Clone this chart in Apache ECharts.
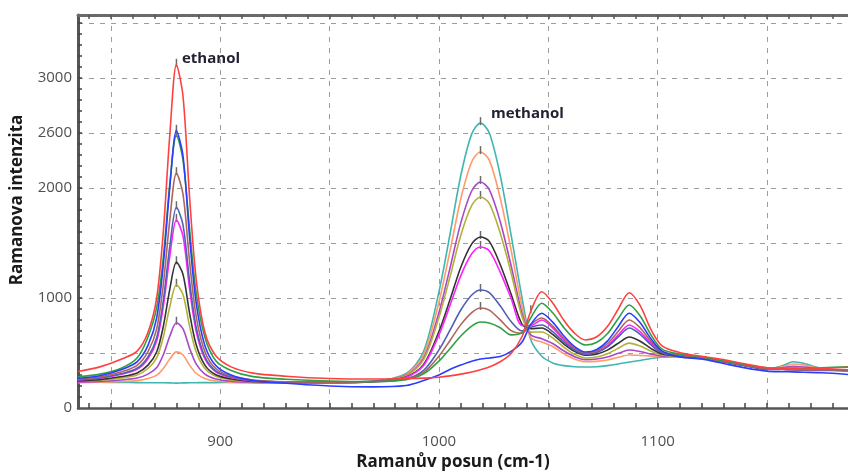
<!DOCTYPE html>
<html>
<head>
<meta charset="utf-8">
<script src="https://cdn.jsdelivr.net/npm/echarts/dist/echarts.min.js"></script>
<style>
  html, body { margin: 0; padding: 0; background: #ffffff; }
  #chart { width: 848px; height: 472px; }
</style>
</head>
<body>
<div id="chart"></div>
<script>
// Raman shift sample positions (cm-1), shared by every spectrum
const wavenumbers = [835, 845, 855, 862, 867, 871, 874, 877, 880, 883, 886, 889, 893, 898, 905, 915, 930,
  950, 970, 985, 993, 1000, 1005, 1010, 1015, 1019, 1023, 1028, 1033, 1038, 1042,
  1047, 1052, 1057, 1062, 1067, 1072, 1077, 1082, 1087, 1092, 1097, 1102, 1110, 1120, 1130, 1140, 1150, 1157, 1162, 1167, 1175, 1187];

// Spectra of ethanol / methanol mixtures (intensity, a.u.)
const specRed = [332, 374, 446, 517, 689, 1004, 1604, 2491, 3120, 2834, 1919, 1175, 689, 475, 374, 317, 289,
  268, 263, 268, 272, 280, 292, 308, 328, 348, 372, 420, 495, 650, 880,
  1057, 955, 800, 680, 618, 645, 740, 900, 1048, 930, 710, 565, 505, 470, 440, 400, 365, 360, 358, 355, 360, 370];
const specBlue = [271, 294, 351, 420, 569, 822, 1304, 2015, 2520, 2291, 1556, 959, 569, 386, 300, 250, 225,
  200, 192, 205, 250, 300, 350, 390, 425, 445, 455, 468, 515, 600, 760,
  862, 781, 657, 558, 509, 530, 608, 742, 862, 776, 627, 517, 465, 445, 405, 365, 335, 330, 328, 325, 320, 305];
const specGreen = [285, 308, 364, 454, 646, 917, 1368, 2044, 2480, 2256, 1629, 1046, 643, 430, 341, 285, 262,
  245, 240, 258, 310, 426, 539, 655, 745, 782, 772, 730, 665, 685, 820,
  953, 866, 733, 626, 573, 595, 675, 813, 936, 836, 662, 535, 490, 465, 430, 395, 365, 360, 360, 362, 365, 375];
const specBrown = [263, 282, 330, 387, 512, 722, 1123, 1715, 2135, 1944, 1333, 836, 512, 359, 292, 254, 238,
  235, 238, 262, 324, 471, 612, 758, 868, 909, 890, 801, 704, 680, 760,
  818, 745, 634, 545, 500, 518, 584, 698, 800, 729, 605, 514, 478, 460, 425, 388, 355, 352, 350, 348, 345, 345];
const specSlate = [257, 273, 313, 361, 465, 641, 977, 1473, 1825, 1665, 1153, 737, 465, 337, 281, 249, 236,
  233, 239, 266, 342, 528, 706, 891, 1027, 1073, 1050, 929, 786, 700, 735,
  755, 694, 601, 527, 490, 504, 556, 646, 727, 670, 573, 501, 472, 455, 422, 386, 352, 350, 348, 346, 342, 340];
const specMagenta = [255, 270, 307, 351, 448, 611, 923, 1383, 1710, 1562, 1086, 700, 448, 329, 277, 247, 235,
  233, 241, 280, 387, 664, 929, 1204, 1402, 1464, 1430, 1236, 996, 750, 750,
  800, 729, 620, 533, 490, 506, 564, 665, 755, 693, 587, 509, 478, 458, 425, 388, 355, 352, 350, 348, 345, 348];
const specBlack = [247, 258, 286, 319, 390, 511, 742, 1083, 1325, 1215, 863, 577, 390, 302, 264, 242, 233,
  232, 240, 282, 396, 695, 981, 1280, 1492, 1555, 1515, 1305, 1035, 760, 720,
  727, 670, 584, 515, 480, 490, 526, 589, 645, 607, 540, 491, 470, 455, 422, 386, 353, 352, 350, 347, 343, 345];
const specOlive = [243, 252, 274, 301, 359, 458, 646, 923, 1120, 1031, 744, 511, 359, 288, 256, 238, 231,
  232, 242, 294, 439, 822, 1188, 1571, 1842, 1918, 1860, 1590, 1228, 830, 690,
  691, 637, 554, 488, 455, 463, 493, 544, 590, 563, 517, 483, 468, 452, 420, 385, 355, 360, 368, 360, 348, 340];
const specViolet = [236, 242, 255, 272, 308, 368, 484, 654, 775, 720, 544, 401, 308, 264, 244, 233, 229,
  230, 242, 297, 453, 869, 1267, 1683, 1975, 2055, 1985, 1696, 1293, 860, 665,
  630, 586, 520, 467, 440, 445, 464, 497, 527, 513, 490, 472, 466, 452, 420, 385, 355, 365, 380, 372, 352, 340];
const specOrange = [231, 234, 241, 249, 268, 299, 359, 447, 510, 482, 390, 316, 268, 245, 235, 229, 227,
  230, 242, 305, 485, 964, 1422, 1903, 2239, 2327, 2254, 1910, 1435, 920, 640,
  600, 559, 496, 445, 420, 424, 437, 461, 482, 478, 472, 467, 466, 450, 420, 385, 355, 375, 400, 390, 355, 338];
const specTeal = [236, 234, 232, 231, 230, 229, 229, 228, 226, 228, 229, 230, 231, 231, 232, 233, 234,
  235, 244, 314, 515, 1056, 1573, 2114, 2492, 2590, 2502, 2116, 1572, 1000, 620,
  470, 410, 385, 375, 373, 375, 385, 400, 418, 432, 450, 462, 468, 450, 420, 385, 355, 385, 420, 405, 360, 335];

const spectra = [specTeal, specOrange, specViolet, specOlive, specBlack, specMagenta,
  specSlate, specBrown, specGreen, specBlue, specRed];
const spectrumNames = ['vzorek 11', 'vzorek 10', 'vzorek 9', 'vzorek 8', 'vzorek 7', 'vzorek 6',
  'vzorek 5', 'vzorek 4', 'vzorek 3', 'vzorek 2', 'vzorek 1'];

// Axis ticks and labels
const xTickValues = [840, 850, 860, 870, 880, 890, 900, 910, 920, 930, 940, 950, 960, 970, 980, 990, 1000,
  1010, 1020, 1030, 1040, 1050, 1060, 1070, 1080, 1090, 1100, 1110, 1120, 1130, 1140, 1150, 1160, 1170, 1180];
const xLabelValues = [900, 1000, 1100];
const yTickValues = [100, 200, 300, 400, 500, 600, 700, 800, 900, 1000, 1100, 1200, 1300, 1400, 1500,
  1600, 1700, 1800, 1900, 2000, 2100, 2200, 2300, 2400, 2500, 2600, 2700, 2800, 2900, 3000,
  3100, 3200, 3300, 3400, 3500];
const yLabelValues = [0, 1000, 2000, 2500, 3000];
const yLabelTexts = ['0', '1000', '2000', '2600', '3000'];

// Peak windows (index ranges into wavenumbers) that get a peak marker
const peakWindows = [[0, 16, 700], [17, 30, 850]];

// Styling
const lineColors = ['#3fb6b0', '#ff9a6a', '#a848c8', '#b2b23a', '#333333', '#ff22ff',
  '#5060b4', '#b0645a', '#2f9f44', '#2a3cff', '#ff4040'];

const chart = echarts.init(document.getElementById('chart'), null, { renderer: 'canvas' });

function peakMarks(values) {
  const marks = [];
  peakWindows.forEach(([a, b, minHeight]) => {
    let best = a;
    for (let i = a; i <= b; i++) if (values[i] > values[best]) best = i;
    if (values[best] > minHeight) marks.push({ coord: [wavenumbers[best], values[best]] });
  });
  return marks;
}

const gridDash = { color: '#9c9c9c', width: 1, type: [5, 6] };
const hidden = { show: false };

const option = {
  animation: false,
  backgroundColor: '#ffffff',
  grid: { left: 78, right: 0, top: 15, bottom: 64 },
  xAxis: [
    {
      // bottom axis: line, fine ticks and labels
      type: 'value', min: 835, max: 1187, splitNumber: 7, position: 'bottom',
      axisLine: { show: true, onZero: false, lineStyle: { color: '#555555', width: 2.5 } },
      axisTick: { show: true, inside: true, length: 5, customValues: xTickValues, lineStyle: { color: '#444444', width: 1.5 } },
      axisLabel: {
        customValues: xLabelValues, margin: 26, color: '#505050',
        fontFamily: 'Open Sans', fontSize: 15,
        formatter: v => (xLabelValues.indexOf(v) >= 0 ? String(v) : '')
      },
      splitLine: hidden
    },
    {
      // top frame axis
      type: 'value', min: 835, max: 1187, splitNumber: 7, position: 'top',
      axisLine: { show: true, onZero: false, lineStyle: { color: '#6a6a6a', width: 3 } },
      axisTick: { show: true, inside: true, length: 4, customValues: xTickValues, lineStyle: { color: '#555555', width: 1.5 } },
      axisLabel: hidden,
      splitLine: hidden
    },
    {
      // dashed vertical grid every 50 cm-1
      type: 'value', min: 835, max: 1187, splitNumber: 7, position: 'bottom',
      axisLine: hidden, axisTick: hidden, axisLabel: hidden,
      splitLine: { show: true, lineStyle: gridDash }
    }
  ],
  yAxis: [
    {
      type: 'value', min: 0, max: 3573, interval: 500, position: 'left',
      axisLine: { show: true, onZero: false, lineStyle: { color: '#555555', width: 3 } },
      axisTick: { show: true, inside: true, length: 4, customValues: yTickValues, lineStyle: { color: '#444444', width: 1.5 } },
      axisLabel: {
        customValues: yLabelValues, margin: 6, color: '#505050',
        fontFamily: 'Open Sans', fontSize: 15,
        formatter: v => {
          const i = yLabelValues.indexOf(v);
          return i >= 0 ? yLabelTexts[i] : '';
        }
      },
      splitLine: hidden
    },
    {
      // dashed horizontal grid every 500
      type: 'value', min: 0, max: 3573, interval: 500, position: 'left',
      axisLine: hidden, axisTick: hidden, axisLabel: hidden,
      splitLine: { show: true, lineStyle: gridDash }
    }
  ],
  series: spectra.map((values, k) => ({
    name: spectrumNames[k],
    type: 'line',
    xAxisIndex: 0,
    yAxisIndex: 0,
    data: wavenumbers.map((x, i) => [x, values[i]]),
    showSymbol: false,
    smooth: 0.3,
    lineStyle: { color: lineColors[k], width: 1.6 },
    itemStyle: { color: lineColors[k] },
    z: 3 + k,
    markPoint: {
      symbol: 'rect',
      symbolSize: [1.5, 8],
      symbolOffset: [0, -2],
      itemStyle: { color: '#6a6a6a' },
      label: { show: false },
      data: peakMarks(values)
    }
  })),
  graphic: [
    {
      type: 'text', left: 182, top: 51, z: 100,
      style: { text: 'ethanol', font: 'bold 15px "Open Sans"', fill: '#222233' }
    },
    {
      type: 'text', left: 491, top: 106, z: 100,
      style: { text: 'methanol', font: 'bold 15px "Open Sans"', fill: '#222233' }
    },
    {
      type: 'text', x: 17, y: 200, rotation: Math.PI / 2, z: 100,
      style: { text: 'Ramanova intenzita', font: 'bold 17px "Open Sans"', fill: '#1a1a1a',
        textAlign: 'center', textVerticalAlign: 'middle' }
    },
    {
      type: 'text', x: 453, y: 462, z: 100,
      style: { text: 'Ramanův posun (cm-1)', font: 'bold 17px "Open Sans"', fill: '#1a1a1a',
        textAlign: 'center', textVerticalAlign: 'middle' }
    }
  ]
};

chart.setOption(option);
</script>
</body>
</html>
